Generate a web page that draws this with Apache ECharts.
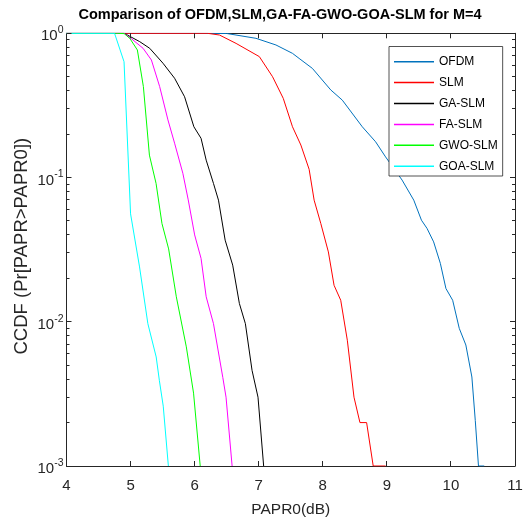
<!DOCTYPE html>
<html>
<head>
<meta charset="utf-8">
<script src="https://cdn.jsdelivr.net/npm/echarts@6/dist/echarts.min.js"></script>
<style>html,body{margin:0;padding:0;background:#fff}#c{width:526px;height:518px}</style>
</head>
<body>
<div id="c"></div>
<script>
const titleText = 'Comparison of OFDM,SLM,GA-FA-GWO-GOA-SLM for M=4';
const seriesNames = ['OFDM', 'SLM', 'GA-SLM', 'FA-SLM', 'GWO-SLM', 'GOA-SLM'];
const seriesColors = ['#0072BD', '#FF0000', '#000000', '#FF00FF', '#00FF00', '#00FFFF'];
const xMin = 4, xMax = 11, yMin = 0.001, yMax = 1;
const xTicks = [4, 5, 6, 7, 8, 9, 10, 11];
const yMajorTicks = [0.001, 0.01, 0.1, 1];
const yMinorTicks = [0.002,0.003,0.004,0.005,0.006,0.007,0.008,0.009,
                     0.02,0.03,0.04,0.05,0.06,0.07,0.08,0.09,
                     0.2,0.3,0.4,0.5,0.6,0.7,0.8,0.9];

// [PAPR0 (dB), CCDF]
const ofdm = [[4,1],[6.0,1],[6.5,0.997],[6.957,0.923],[7.269,0.83],[7.527,0.726],[7.63,0.67],[7.838,0.571],
  [8.124,0.405],[8.305,0.344],[8.616,0.225],[8.824,0.177],[8.98,0.139],[9.238,0.096],[9.42,0.0697],
  [9.54,0.0506],[9.627,0.0444],[9.73,0.0358],[9.835,0.0254],[9.922,0.017],[10.027,0.0141],[10.13,0.009],
  [10.233,0.0069],[10.327,0.00414],[10.38,0.00207],[10.43,0.001],[10.52,0.001]];
const slm = [[4,1],[6.2,1],[6.387,0.973],[6.647,0.851],[7.01,0.689],[7.216,0.5],[7.383,0.354],[7.527,0.225],
  [7.658,0.168],[7.787,0.114],[7.865,0.0697],[7.969,0.048],[8.087,0.0305],[8.176,0.0179],[8.28,0.0141],
  [8.383,0.00745],[8.487,0.003],[8.58,0.002],[8.684,0.002],[8.787,0.001],[8.98,0.001]];
const gaSlm = [[4,1],[4.9,1],[5.143,0.875],[5.299,0.787],[5.506,0.62],[5.687,0.488],[5.843,0.363],[5.988,0.225],
  [6.10,0.187],[6.18,0.132],[6.294,0.091],[6.372,0.0697],[6.476,0.0368],[6.594,0.0247],[6.698,0.0134],
  [6.792,0.0097],[6.896,0.0046],[6.989,0.003],[7.077,0.001]];
const faSlm = [[4,1],[4.9,1],[5.01,0.92],[5.195,0.787],[5.325,0.653],[5.454,0.427],[5.583,0.251],[5.687,0.173],
  [5.816,0.107],[5.90,0.07],[6.0,0.04],[6.10,0.0275],[6.18,0.0149],[6.294,0.0097],[6.44,0.0041],
  [6.49,0.003],[6.585,0.001]];
const gwoSlm = [[4,1],[4.8,1],[4.9,0.995],[4.99,0.92],[5.106,0.766],[5.2,0.427],[5.294,0.143],[5.398,0.091],
  [5.49,0.048],[5.594,0.032],[5.714,0.0149],[5.87,0.0067],[5.983,0.0032],[6.087,0.001]];
const goaSlm = [[4,1],[4.75,1],[4.78,0.99],[4.898,0.635],[5.0,0.056],[5.14,0.024],[5.27,0.0097],
  [5.40,0.0057],[5.45,0.0039],[5.51,0.0026],[5.59,0.001]];
const seriesData = [ofdm, slm, gaSlm, faSlm, gwoSlm, goaSlm];

const axisColor = '#262626';
const font = 'Liberation Sans, Arial, Helvetica, sans-serif';

function logAxis(pos, opts) {
  return Object.assign({
    type: 'log', logBase: 10, min: yMin, max: yMax, position: pos,
    axisLine: { show: true, lineStyle: { color: axisColor, width: 1 } },
    axisTick: { show: false },
    axisLabel: { show: false },
    splitLine: { show: false },
    minorTick: { show: false }
  }, opts || {});
}

// tick marks drawn through the axes' own scales (api.coord)
function tickSeries(name, values, dim, len) {
  const data = values.map(v => dim === 'y' ? [xMin, v] : [v, yMin]);
  return {
    name: name, type: 'custom', xAxisIndex: 0, yAxisIndex: 0, silent: true, z: 5,
    data: data, clip: false,
    renderItem: function (params, api) {
      const px = (n) => Math.round(n - 0.5) + 0.5;
      let a, b;
      if (dim === 'y') {
        const v = api.value(1);
        a = api.coord([xMin, v]); b = api.coord([xMax, v]);
        const y = px(a[1]);
        return { type: 'group', children: [
          { type: 'line', shape: { x1: a[0], y1: y, x2: a[0] + len, y2: y }, style: { stroke: axisColor, lineWidth: 1 } },
          { type: 'line', shape: { x1: b[0], y1: y, x2: b[0] - len, y2: y }, style: { stroke: axisColor, lineWidth: 1 } }
        ]};
      } else {
        const v = api.value(0);
        a = api.coord([v, yMin]); b = api.coord([v, yMax]);
        const x = px(a[0]);
        return { type: 'group', children: [
          { type: 'line', shape: { x1: x, y1: a[1], x2: x, y2: a[1] - len }, style: { stroke: axisColor, lineWidth: 1 } },
          { type: 'line', shape: { x1: x, y1: b[1], x2: x, y2: b[1] + len }, style: { stroke: axisColor, lineWidth: 1 } }
        ]};
      }
    }
  };
}

const chart = echarts.init(document.getElementById('c'), null, { renderer: 'canvas' });
chart.setOption({
  animation: false,
  backgroundColor: '#fff',
  textStyle: { fontFamily: font },
  title: {
    text: titleText, left: 280, top: 7, textAlign: 'center', padding: 0,
    textStyle: { fontFamily: font, fontSize: 14.5, fontWeight: 'bold', color: '#000' }
  },
  grid: { left: 66.5, right: 11, top: 33.3, bottom: 52, containLabel: false, outerBoundsMode: 'none' },
  legend: {
    orient: 'vertical', left: 389, top: 46.5,
    padding: [9.2, 5, 3.8, 5], itemGap: 8.9, itemWidth: 40, itemHeight: 14,
    icon: 'path://M0,0H40V1.5H0Z', symbolKeepAspect: true,
    backgroundColor: '#fff', borderColor: '#262626', borderWidth: 0.8,
    textStyle: { fontFamily: font, fontSize: 12, color: '#000' },
    data: seriesNames
  },
  xAxis: [
    {
      type: 'value', min: xMin, max: xMax, interval: 1, position: 'bottom',
      name: 'PAPR0(dB)', nameLocation: 'middle', nameGap: 36, nameMoveOverlap: false,
      nameTextStyle: { fontFamily: font, fontSize: 15.5, color: axisColor },
      axisLine: { show: true, onZero: false, lineStyle: { color: axisColor } },
      axisTick: { show: false },
      axisLabel: { show: true, margin: 12, fontSize: 15, color: axisColor, fontFamily: font,
        formatter: v => xTicks.includes(v) ? String(v) : '' },
      splitLine: { show: false }
    },
    {
      type: 'value', min: xMin, max: xMax, interval: 1, position: 'top',
      axisLine: { show: true, onZero: false, lineStyle: { color: axisColor } },
      axisTick: { show: false },
      axisLabel: { show: false }, splitLine: { show: false }
    }
  ],
  yAxis: [
    logAxis('left', {
      name: 'CCDF (Pr[PAPR>PAPR0])', nameLocation: 'middle', nameGap: 35, nameMoveOverlap: false,
      nameTextStyle: { fontFamily: font, fontSize: 18.5, color: axisColor, padding: [0, 0, 0, 7] },
      axisLabel: {
        show: true, margin: 3, color: axisColor, fontFamily: font,
        formatter: function (v) {
          const e = Math.round(Math.log10(v));
          return '{b|10}{s|' + e + '}';
        },
        rich: {
          b: { fontSize: 15, color: axisColor, fontFamily: font, padding: [6, 0, 0, 0] },
          s: { fontSize: 10.5, color: axisColor, fontFamily: font, padding: [0, 0, 6, 0] }
        }
      }
    }),
    logAxis('right')
  ],
  series: seriesNames.map((n, i) => ({
    name: n, type: 'line', xAxisIndex: 0, yAxisIndex: 0,
    data: seriesData[i], symbol: 'none', showSymbol: false,
    lineStyle: { color: seriesColors[i], width: 1 },
    itemStyle: { color: seriesColors[i] },
    clip: true
  })).concat([
    tickSeries('xticks', xTicks.slice(1, -1), 'x', 5),
    tickSeries('ymajor', yMajorTicks, 'y', 5),
    tickSeries('yminor', yMinorTicks, 'y', 3)
  ])
});
</script>
</body>
</html>
